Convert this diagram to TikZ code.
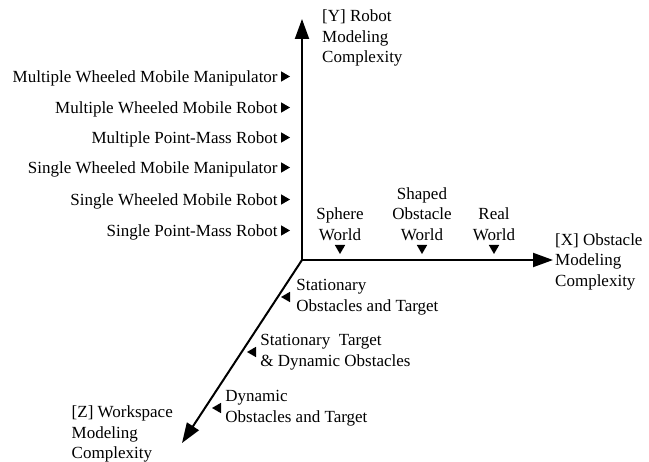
\documentclass[tikz,border=0pt]{standalone}
\usepackage{fontspec}
\setmainfont{Liberation Serif}
\usetikzlibrary{positioning,arrows.meta,shapes.geometric}

\begin{document}
\begin{tikzpicture}[x=1pt,y=-1pt,
        axis/.style={line width=2pt,-{Triangle[length=20pt,width=14pt]}},
        tri/.style={regular polygon,regular polygon sides=3,fill,inner sep=0pt,minimum size=12pt},
        lbl/.style={inner sep=0pt,font={\fontsize{17}{20.5}\selectfont}}]
        \useasboundingbox (0,0) rectangle (649,462);
        % axes
        \coordinate (O) at (302,260);
        \coordinate (ytip) at (302,19);
        \coordinate (xtip) at (553,260);
        \coordinate (ztip) at (182,443);
        \draw[axis,{Triangle[length=20pt,width=14pt]}-{Triangle[length=20pt,width=14pt]}] (ytip) -- (O) -- (xtip);
        \draw[axis] (O) -- (ztip);
        \node[lbl,align=left,anchor=north west] (ylab) at (322,10) {[Y] Robot\\Modeling\\Complexity};
        \node[lbl,align=left,right=2pt of xtip,yshift=-1.5pt] (xlab) {[X] Obstacle\\Modeling\\Complexity};
        \node[lbl,align=left,left=9pt of ztip,yshift=9pt] (zlab) {[Z] Workspace\\Modeling\\Complexity};
        % robot levels
        \node[tri,shape border rotate=-90] (y1) at (284,230.5) {};
        \node[tri,shape border rotate=-90] (y2) at (284,199.5) {};
        \node[tri,shape border rotate=-90] (y3) at (284,167.5) {};
        \node[tri,shape border rotate=-90] (y4) at (284,137.5) {};
        \node[tri,shape border rotate=-90] (y5) at (284,107.5) {};
        \node[tri,shape border rotate=-90] (y6) at (284,76.5) {};
        \node[lbl,left=3pt of y1,yshift=-1.5pt] (spm) {Single Point-Mass Robot};
        \node[lbl,left=3pt of y2,yshift=-1.5pt] (swmr) {Single Wheeled Mobile Robot};
        \node[lbl,left=3pt of y3,yshift=-1.5pt] (swmm) {Single Wheeled Mobile Manipulator};
        \node[lbl,left=3pt of y4,yshift=-1.5pt] (mpm) {Multiple Point-Mass Robot};
        \node[lbl,left=3pt of y5,yshift=-1.5pt] (mwmr) {Multiple Wheeled Mobile Robot};
        \node[lbl,left=3pt of y6,yshift=-1.5pt] (mwmm) {Multiple Wheeled Mobile Manipulator};
        % obstacle levels
        \node[tri,shape border rotate=180] (x1) at (340,248) {};
        \node[tri,shape border rotate=180] (x2) at (422,248) {};
        \node[tri,shape border rotate=180] (x3) at (494,248) {};
        \node[lbl,align=center,above=4pt of x1] (sphere) {Sphere\\World};
        \node[lbl,align=center,above=4pt of x2] (shaped) {Shaped\\Obstacle\\World};
        \node[lbl,align=center,above=4pt of x3] (real) {Real\\World};
        % workspace levels
        \node[tri,shape border rotate=90] (z1) at (287,297) {};
        \node[tri,shape border rotate=90] (z2) at (253,352) {};
        \node[tri,shape border rotate=90] (z3) at (218,408) {};
        \node[lbl,align=left,right=6pt of z1] (stat) {Stationary\\Obstacles and Target};
        \node[lbl,align=left,right=4pt of z2] (stdyn) {Stationary\ \ Target\\\& Dynamic Obstacles};
        \node[lbl,align=left,right=4pt of z3] (dyn) {Dynamic\\Obstacles and Target};
\end{tikzpicture}
\end{document}
